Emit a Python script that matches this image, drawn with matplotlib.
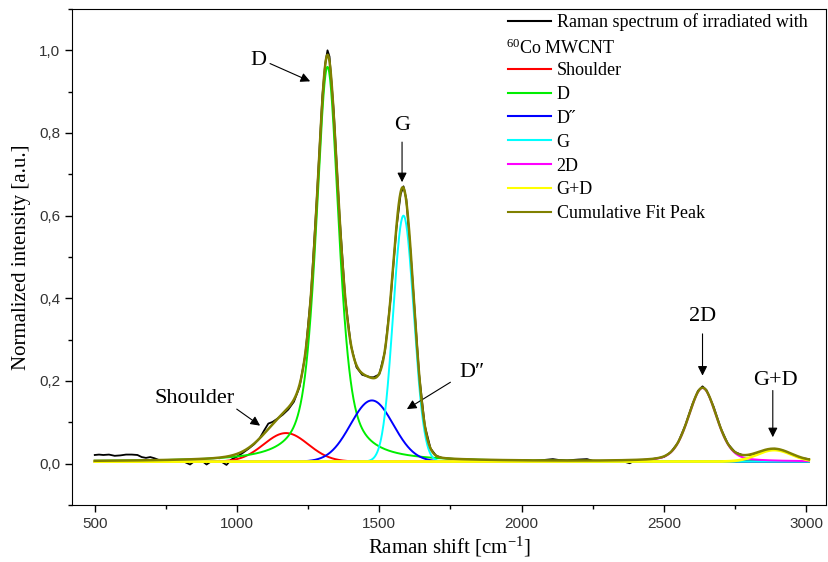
import numpy as np
import matplotlib
matplotlib.use("Agg")
import matplotlib.pyplot as plt
from matplotlib.ticker import MultipleLocator, FuncFormatter
from matplotlib.lines import Line2D

plt.rcParams['mathtext.fontset'] = 'custom'
plt.rcParams['mathtext.rm'] = 'Liberation Serif'
plt.rcParams['mathtext.it'] = 'Liberation Serif:italic'
plt.rcParams['mathtext.bf'] = 'Liberation Serif:bold'

# ---------------- data ----------------
# measured (raw) spectrum, read from the picture
raw_shift = [500, 515, 530, 550, 570, 590, 610, 630, 650, 665, 680, 695, 710, 725, 750,
             780, 810, 835, 850, 880, 893, 910, 940, 963, 980, 1000, 1020, 1040, 1060,
             1080, 1095, 1110, 1125, 1140, 1160, 1180, 1200, 1220, 1240, 1260, 1280,
             1300, 1310, 1318, 1325, 1340, 1360, 1380, 1400, 1420, 1440, 1460, 1470,
             1480, 1500, 1520, 1540, 1560, 1575, 1585, 1595, 1610, 1620, 1640, 1660,
             1680, 1700, 1720, 1750, 1800, 1850, 1900, 1950, 2000, 2040, 2080, 2110,
             2130, 2160, 2200, 2230, 2250, 2300, 2350, 2380, 2400, 2450, 2500, 2525,
             2550, 2575, 2600, 2620, 2636, 2650, 2675, 2700, 2725, 2750, 2775, 2800,
             2825, 2850, 2875, 2890, 2910, 2925, 2950, 2975, 3000, 3010]
raw_intensity = [0.021, 0.022, 0.021, 0.022, 0.019, 0.020, 0.022, 0.022, 0.021, 0.016,
                 0.014, 0.016, 0.013, 0.009, 0.007, 0.007, 0.006, -0.002, 0.006, 0.005,
                 -0.002, 0.006, 0.007, -0.003, 0.010, 0.017, 0.026, 0.036, 0.047, 0.062,
                 0.080, 0.097, 0.101, 0.108, 0.118, 0.131, 0.150, 0.186, 0.263, 0.411,
                 0.638, 0.890, 0.968, 1.000, 0.985, 0.852, 0.603, 0.402, 0.287, 0.233,
                 0.215, 0.211, 0.209, 0.209, 0.216, 0.272, 0.401, 0.568, 0.652, 0.671,
                 0.640, 0.510, 0.412, 0.216, 0.092, 0.037, 0.019, 0.014, 0.012, 0.010,
                 0.009, 0.008, 0.007, 0.009, 0.007, 0.009, 0.011, 0.009, 0.008, 0.010,
                 0.011, 0.007, 0.006, 0.007, 0.001, 0.008, 0.010, 0.016, 0.028, 0.051,
                 0.092, 0.143, 0.176, 0.187, 0.178, 0.138, 0.086, 0.048, 0.028, 0.021,
                 0.021, 0.024, 0.030, 0.035, 0.036, 0.033, 0.030, 0.022, 0.015, 0.012,
                 0.011]

# fitted peak components
peak_names   = ['Shoulder', 'D', 'D\u02dd', 'G', '2D', 'G+D']
peak_centers = [1172, 1318, 1474, 1585, 2636, 2888]      # cm-1
peak_heights = [0.069, 0.955, 0.148, 0.595, 0.178, 0.028]
peak_fwhm    = [184, 95, 177, 85, 118, 141]              # cm-1
peak_lorentz = [0.0, 0.6, 0.0, 0.0, 0.3, 0.0]            # Lorentzian fraction
peak_colors  = ['#ff0000', '#00ee00', '#0000ff', '#00ffff', '#ff00ff', '#ffff00']
peak_widths  = [1.4, 1.4, 1.4, 1.4, 1.4, 2.0]
baseline = 0.005

raw_label = 'Raman spectrum of irradiated with'
raw_label2 = '$^{60}$Co MWCNT'
fit_label = 'Cumulative Fit Peak'

# ---------------- model ----------------
def pseudo_voigt(x, c, h, w, eta):
    g = np.exp(-4 * np.log(2) * ((x - c) / w) ** 2)
    l = 1.0 / (1.0 + 4 * ((x - c) / w) ** 2)
    return h * (eta * l + (1 - eta) * g)

xs = np.linspace(500, 3010, 1500)
comps = [pseudo_voigt(xs, c, h, w, e) for c, h, w, e in
         zip(peak_centers, peak_heights, peak_fwhm, peak_lorentz)]
cumulative = baseline + np.sum(comps, axis=0)

# ---------------- figure ----------------
fig = plt.figure(figsize=(8.29, 5.62), dpi=100)
ax = fig.add_axes([72 / 829, 1 - 505 / 562, 754 / 829, 496 / 562])

ax.plot(raw_shift, raw_intensity, color='black', lw=1.3, zorder=2)
handles = [Line2D([], [], color='black', lw=1.5),
           Line2D([], [], color='none')]
labels = [raw_label, ' ']
for comp, col, name, lw in zip(comps, peak_colors, peak_names, peak_widths):
    ax.plot(xs, baseline + comp, color=col, lw=lw, zorder=3)
    handles.append(Line2D([], [], color=col, lw=1.5))
    labels.append(name)
ax.plot(xs, cumulative, color='#808000', lw=1.8, zorder=4)
handles.append(Line2D([], [], color='#808000', lw=1.5))
labels.append(fit_label)

ax.set_xlim(420, 3070)
ax.set_ylim(-0.1, 1.1)

serif = 'Liberation Serif'
ax.set_xlabel('Raman shift [cm$^{-1}$]', fontsize=15, family=serif, labelpad=3)
ax.set_ylabel('Normalized intensity [a.u.]', fontsize=15, family=serif, labelpad=6)

ax.xaxis.set_major_locator(MultipleLocator(500))
ax.xaxis.set_minor_locator(MultipleLocator(250))
ax.yaxis.set_major_locator(MultipleLocator(0.2))
ax.yaxis.set_minor_locator(MultipleLocator(0.1))
ax.yaxis.set_major_formatter(FuncFormatter(lambda v, p: f'{v:.1f}'.replace('.', ',').replace('-0,0', '0,0')))
ax.tick_params(which='both', direction='out', top=False, right=False,
               labelsize=11, labelcolor='#333333', width=1)
ax.tick_params(which='major', length=5)
ax.tick_params(which='minor', length=3)
for lab in ax.get_xticklabels() + ax.get_yticklabels():
    lab.set_family('Liberation Sans')

leg = ax.legend(handles, labels, loc='upper left', bbox_to_anchor=(0.578, 0.991),
                frameon=False, prop={'family': serif, 'size': 13},
                borderpad=0, borderaxespad=0, handlelength=2.4,
                handletextpad=0.3, labelspacing=0.38)
ax.text(0.5756, 0.921, raw_label2, transform=ax.transAxes, family=serif,
        fontsize=13, va='center', ha='left')

# annotations
ann_kw = dict(arrowprops=dict(arrowstyle='-|>', color='black', lw=0.8,
                              mutation_scale=14, shrinkA=0, shrinkB=0))
txt_kw = dict(fontsize=16, family=serif, ha='center', va='center')
ax.annotate('', xy=(1257, 0.925), xytext=(1116, 0.968), **ann_kw)
ax.text(1074, 0.976, 'D', **txt_kw)
ax.annotate('', xy=(1580, 0.681), xytext=(1580, 0.778), **ann_kw)
ax.text(1581, 0.818, 'G', **txt_kw)
ax.annotate('', xy=(1081, 0.092), xytext=(999, 0.132), **ann_kw)
ax.text(852, 0.157, 'Shoulder', **txt_kw)
ax.annotate('', xy=(1597, 0.132), xytext=(1750, 0.197), **ann_kw)
ax.text(1826, 0.221, 'D\u2033', **txt_kw)
ax.annotate('', xy=(2636, 0.213), xytext=(2636, 0.314), **ann_kw)
ax.text(2637, 0.356, '2D', **txt_kw)
ax.annotate('', xy=(2883, 0.064), xytext=(2883, 0.177), **ann_kw)
ax.text(2894, 0.201, 'G+D', **txt_kw)

fig.savefig('out.png', dpi=100)
